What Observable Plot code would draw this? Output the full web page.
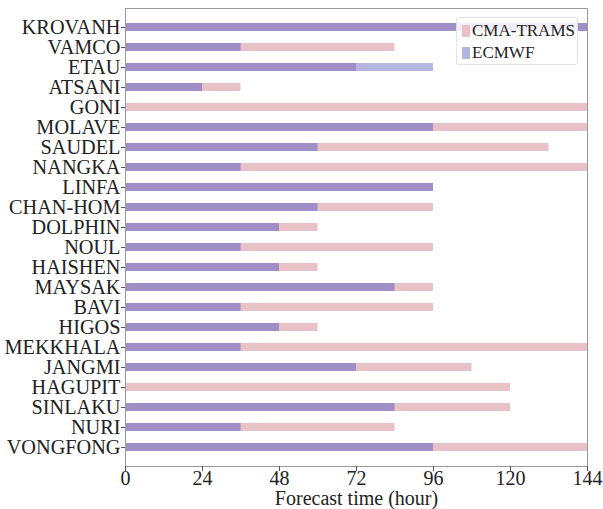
<!DOCTYPE html>
<html>
<head>
<meta charset="utf-8">
<script src="https://cdn.jsdelivr.net/npm/d3@7"></script>
<script src="https://cdn.jsdelivr.net/npm/@observablehq/plot@0.6"></script>
<style>
  html, body { margin: 0; padding: 0; background: #fff; }
  #wrap { position: relative; width: 603px; height: 509px; font-family: "Liberation Serif", "DejaVu Serif", serif; }
  #chart svg, #chart svg text { font-family: "Liberation Serif", "DejaVu Serif", serif !important; }
  #legend { position: absolute; left: 456px; top: 17px; width: 122px; height: 48px; background: rgba(255,255,255,0.85);
            border: 1px solid #e2e2e2; border-radius: 3px; box-sizing: border-box; font-size: 17px; color: #222; }
  .item { position: absolute; left: 5px; display: flex; align-items: center; }
  .sw { width: 8px; height: 12px; margin-right: 2px; }
</style>
</head>
<body>
<div id="wrap">
  <div id="chart"></div>
  <div id="legend"></div>
</div>
<script>
const names = ["KROVANH","VAMCO","ETAU","ATSANI","GONI","MOLAVE","SAUDEL","NANGKA","LINFA","CHAN-HOM","DOLPHIN","NOUL","HAISHEN","MAYSAK","BAVI","HIGOS","MEKKHALA","JANGMI","HAGUPIT","SINLAKU","NURI","VONGFONG"];
const cmaTrams = [144, 84, 72, 36, 144, 144, 132, 144, 96, 96, 60, 96, 60, 96, 96, 60, 144, 108, 120, 120, 84, 144];
const ecmwf    = [144, 36, 96, 24, null, 96, 60, 36, 96, 60, 48, 36, 48, 84, 36, 48, 36, 72, null, 84, 36, 96];
const xTicks = [0, 24, 48, 72, 96, 120, 144];
const seriesNames = ["CMA-TRAMS", "ECMWF"];

const pink = "#e8c2c6";
const blue = "#b4b6e0";
const purple = "#a08fc7";

const rows = names.map((n, i) => ({name: n, cma: cmaTrams[i], ec: ecmwf[i]}));

const chart = Plot.plot({
  width: 603, height: 509,
  marginLeft: 125, marginRight: 16, marginTop: 8, marginBottom: 43,
  style: {fontFamily: "Liberation Serif", fontSize: "20px", color: "#222", background: "#fff"},
  x: {domain: [0, 144]},
  y: {domain: names, paddingInner: 0.6, paddingOuter: 0.75},
  marks: [
    Plot.barX(rows.filter(d => d.cma != null), {y: "name", x1: 0, x2: "cma", fill: pink}),
    Plot.barX(rows.filter(d => d.ec != null), {y: "name", x1: 0, x2: "ec", fill: blue}),
    Plot.barX(rows.filter(d => d.ec != null && d.cma != null), {y: "name", x1: 0, x2: d => Math.min(d.cma, d.ec), fill: purple}),
    Plot.frame({stroke: "#999"}),
    Plot.axisX({ticks: xTicks, tickSize: 5, tickPadding: -1, fontSize: 20, label: null, stroke: "#555"}),
    Plot.axisY({tickSize: 4, tickPadding: 1, fontSize: 20.3, label: null, stroke: "#555"}),
    Plot.text(["Forecast time (hour)"], {frameAnchor: "bottom", lineAnchor: "middle", dy: 32, fontSize: 20, fill: "#222"})
  ]
});
document.getElementById("chart").appendChild(chart);

const legend = document.getElementById("legend");
const cols = [pink, blue];
seriesNames.forEach((s, i) => {
  const it = document.createElement("div");
  it.className = "item";
  it.style.top = (i === 0 ? 3 : 25) + "px";
  it.innerHTML = `<span class="sw" style="background:${cols[i]}"></span><span>${s}</span>`;
  legend.appendChild(it);
});
</script>
</body>
</html>
